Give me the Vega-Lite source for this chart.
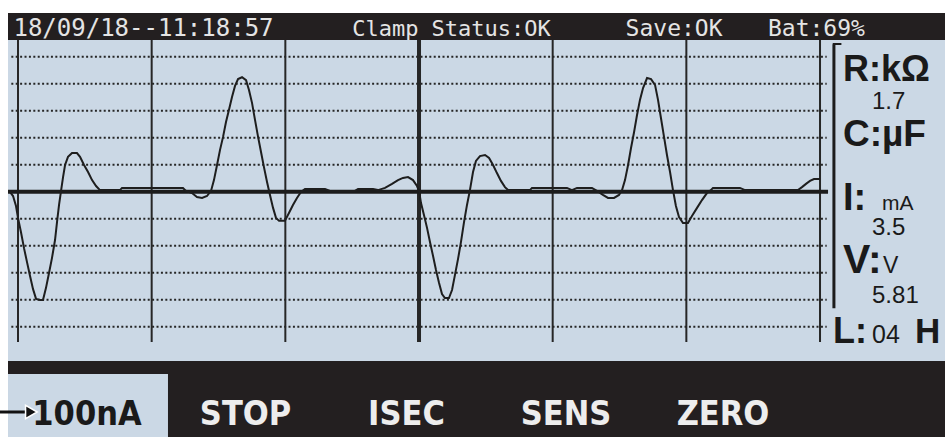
{
"$schema": "https://vega.github.io/schema/vega-lite/v6.json",
"width": 945, "height": 437, "padding": 0,
"autosize": {"type": "none"},
"background": "#ffffff",
"config": {"view": {"stroke": null}},
"datasets": {
"wave": [
{"t":-0.60,"v":-0.01},{"t":-0.37,"v":-0.16},{"t":-0.15,"v":-0.53},{"t":0,"v":-0.97},{"t":0.22,"v":-1.49},{"t":0.45,"v":-2.09},{"t":0.67,"v":-2.60},{"t":0.90,"v":-3.12},{"t":1.12,"v":-3.60},{"t":1.35,"v":-3.97},{"t":1.65,"v":-4.01},{"t":1.87,"v":-4.01},{"t":2.09,"v":-3.57},{"t":2.32,"v":-3.01},{"t":2.54,"v":-2.46},{"t":2.77,"v":-1.79},{"t":2.92,"v":-1.12},{"t":3.07,"v":-0.49},{"t":3.22,"v":0.03},{"t":3.37,"v":0.54},{"t":3.52,"v":0.99},{"t":3.74,"v":1.29},{"t":4.04,"v":1.43},{"t":4.41,"v":1.43},{"t":4.64,"v":1.29},{"t":4.94,"v":0.99},{"t":5.24,"v":0.73},{"t":5.54,"v":0.43},{"t":5.84,"v":0.21},{"t":6.13,"v":0.06},{"t":7.63,"v":0.06},{"t":7.78,"v":0.14},{"t":12.34,"v":0.14},{"t":12.57,"v":0.03},{"t":13.02,"v":-0.05},{"t":13.39,"v":-0.20},{"t":13.77,"v":-0.23},{"t":14.14,"v":-0.16},{"t":14.44,"v":0.03},{"t":14.66,"v":0.43},{"t":14.89,"v":0.99},{"t":15.11,"v":1.54},{"t":15.34,"v":2.03},{"t":15.56,"v":2.58},{"t":15.78,"v":3.03},{"t":16.01,"v":3.51},{"t":16.23,"v":3.91},{"t":16.46,"v":4.17},{"t":16.76,"v":4.24},{"t":17.06,"v":4.13},{"t":17.28,"v":3.77},{"t":17.51,"v":3.28},{"t":17.73,"v":2.66},{"t":17.96,"v":2.03},{"t":18.18,"v":1.47},{"t":18.40,"v":0.91},{"t":18.63,"v":0.36},{"t":18.85,"v":-0.12},{"t":19.08,"v":-0.60},{"t":19.30,"v":-0.97},{"t":19.53,"v":-1.08},{"t":19.97,"v":-1.08},{"t":20.27,"v":-0.79},{"t":20.57,"v":-0.49},{"t":20.87,"v":-0.23},{"t":21.17,"v":-0.01},{"t":21.47,"v":0.10},{"t":22.97,"v":0.10},{"t":23.34,"v":0.03},{"t":25.21,"v":0.03},{"t":25.44,"v":0.10},{"t":26.56,"v":0.10},{"t":26.93,"v":0.06},{"t":27.46,"v":0.14},{"t":27.98,"v":0.29},{"t":28.43,"v":0.43},{"t":28.80,"v":0.51},{"t":29.18,"v":0.54},{"t":29.55,"v":0.43},{"t":29.85,"v":0.21},{"t":30.00,"v":0.03},{"t":30.15,"v":-0.42},{"t":30.37,"v":-0.86},{"t":30.60,"v":-1.34},{"t":30.82,"v":-1.86},{"t":31.05,"v":-2.38},{"t":31.27,"v":-2.90},{"t":31.50,"v":-3.38},{"t":31.72,"v":-3.79},{"t":31.94,"v":-3.94},{"t":32.24,"v":-3.94},{"t":32.47,"v":-3.64},{"t":32.69,"v":-3.08},{"t":32.92,"v":-2.49},{"t":33.14,"v":-1.86},{"t":33.37,"v":-1.12},{"t":33.59,"v":-0.49},{"t":33.81,"v":0.06},{"t":34.04,"v":0.73},{"t":34.26,"v":1.14},{"t":34.56,"v":1.32},{"t":34.94,"v":1.36},{"t":35.24,"v":1.25},{"t":35.54,"v":0.99},{"t":35.83,"v":0.69},{"t":36.13,"v":0.40},{"t":36.43,"v":0.17},{"t":36.66,"v":0.06},{"t":38.30,"v":0.06},{"t":38.45,"v":0.14},{"t":41.07,"v":0.14},{"t":41.44,"v":0.06},{"t":41.82,"v":0.14},{"t":42.94,"v":0.14},{"t":43.31,"v":0.03},{"t":43.76,"v":-0.12},{"t":44.14,"v":-0.23},{"t":44.59,"v":-0.23},{"t":44.96,"v":-0.12},{"t":45.19,"v":0.06},{"t":45.41,"v":0.43},{"t":45.64,"v":0.99},{"t":45.86,"v":1.62},{"t":46.09,"v":2.21},{"t":46.31,"v":2.84},{"t":46.53,"v":3.40},{"t":46.76,"v":3.84},{"t":47.06,"v":4.21},{"t":47.36,"v":4.17},{"t":47.66,"v":3.95},{"t":47.88,"v":3.40},{"t":48.10,"v":2.73},{"t":48.33,"v":2.03},{"t":48.55,"v":1.36},{"t":48.78,"v":0.73},{"t":49.00,"v":0.06},{"t":49.22,"v":-0.53},{"t":49.45,"v":-0.94},{"t":49.75,"v":-1.16},{"t":50.12,"v":-1.16},{"t":50.42,"v":-0.90},{"t":50.80,"v":-0.60},{"t":51.17,"v":-0.31},{"t":51.54,"v":-0.05},{"t":51.84,"v":0.06},{"t":51.99,"v":0.14},{"t":54.01,"v":0.14},{"t":54.39,"v":0.06},{"t":58.35,"v":0.06},{"t":58.65,"v":0.17},{"t":58.95,"v":0.29},{"t":59.25,"v":0.40},{"t":59.55,"v":0.47},{"t":59.85,"v":0.47},{"t":60.00,"v":0.47}
],
"vgrid": [{"t":0},{"t":10},{"t":20},{"t":30},{"t":40},{"t":50},{"t":60}],
"hgrid": [{"v":-5},{"v":-4},{"v":-3},{"v":-2},{"v":-1},{"v":1},{"v":2},{"v":3},{"v":4},{"v":5}]
},
"layer": [
{"data":{"values":[{}]},"mark":{"type":"rect","color":"#231f20"},
 "encoding":{"x":{"datum":-0.748,"scale":{"domain":[-1.347,69.35],"nice":false,"zero":false},"axis":null},"x2":{"datum":69.4},
 "y":{"datum":6.619,"scale":{"domain":[-9.085,7.1],"nice":false,"zero":false},"axis":null},"y2":{"datum":5.619}}},
{"data":{"values":[{}]},"mark":{"type":"rect","color":"#cbd8e5"},
 "encoding":{"x":{"datum":-0.748,"scale":{"domain":[-1.347,69.35],"nice":false,"zero":false},"axis":null},"x2":{"datum":69.4},
 "y":{"datum":5.619,"scale":{"domain":[-9.085,7.1],"nice":false,"zero":false},"axis":null},"y2":{"datum":-6.27}}},
{"data":{"values":[{}]},"mark":{"type":"rect","color":"#231f20"},
 "encoding":{"x":{"datum":-0.748,"scale":{"domain":[-1.347,69.35],"nice":false,"zero":false},"axis":null},"x2":{"datum":69.4},
 "y":{"datum":-6.27,"scale":{"domain":[-9.085,7.1],"nice":false,"zero":false},"axis":null},"y2":{"datum":-9.1}}},
{"data":{"values":[{}]},"mark":{"type":"rect","color":"#cbd8e5"},
 "encoding":{"x":{"datum":-0.748,"scale":{"domain":[-1.347,69.35],"nice":false,"zero":false},"axis":null},"x2":{"datum":11.22},
 "y":{"datum":-6.75,"scale":{"domain":[-9.085,7.1],"nice":false,"zero":false},"axis":null},"y2":{"datum":-9.1}}},
{"data":{"name":"hgrid"},"mark":{"type":"rule","color":"#262626","strokeWidth":2,"strokeDash":[2,2.4]},
 "encoding":{"x":{"datum":-0.5,"scale":{"domain":[-1.347,69.35],"nice":false,"zero":false},"axis":null},"x2":{"datum":60.5},
 "y":{"field":"v","type":"quantitative","scale":{"domain":[-9.085,7.1],"nice":false,"zero":false},"axis":null}}},
{"data":{"name":"vgrid"},"mark":{"type":"rule","color":"#262626"},
 "encoding":{"x":{"field":"t","type":"quantitative","scale":{"domain":[-1.347,69.35],"nice":false,"zero":false},"axis":null},
 "y":{"datum":5.619,"scale":{"domain":[-9.085,7.1],"nice":false,"zero":false},"axis":null},"y2":{"datum":-5.57},
 "strokeWidth":{"condition":{"test":"datum.t === 30","value":4},"value":2}}},
{"data":{"values":[{}]},"mark":{"type":"rule","color":"#1c1c1c","strokeWidth":4},
 "encoding":{"x":{"datum":-0.748,"scale":{"domain":[-1.347,69.35],"nice":false,"zero":false},"axis":null},"x2":{"datum":60.6},
 "y":{"datum":0,"scale":{"domain":[-9.085,7.1],"nice":false,"zero":false},"axis":null}}},
{"data":{"name":"wave"},"mark":{"type":"line","color":"#1e1e1e","strokeWidth":2},
 "encoding":{"x":{"field":"t","type":"quantitative","scale":{"domain":[-1.347,69.35],"nice":false,"zero":false},"axis":null},
 "y":{"field":"v","type":"quantitative","scale":{"domain":[-9.085,7.1],"nice":false,"zero":false},"axis":null}}},
{"data":{"values":[{}]},"mark":{"type":"rule","color":"#1c1c1c","strokeWidth":3},
 "encoding":{"x":{"datum":61.04,"scale":{"domain":[-1.347,69.35],"nice":false,"zero":false},"axis":null},
 "y":{"datum":5.45,"scale":{"domain":[-9.085,7.1],"nice":false,"zero":false},"axis":null},"y2":{"datum":-4.32}}},
{"data":{"values":[{}]},"mark":{"type":"rule","color":"#1c1c1c","strokeWidth":2},
 "encoding":{"x":{"datum":60.95,"scale":{"domain":[-1.347,69.35],"nice":false,"zero":false},"axis":null},"x2":{"datum":61.6},
 "y":{"datum":5.47,"scale":{"domain":[-9.085,7.1],"nice":false,"zero":false},"axis":null}}},
{"data":{"values":[{}]},"mark":{"type":"text","font":"DejaVu Sans Mono","fontSize":24,"color":"#e4e4e4","align":"center","baseline":"alphabetic"},
 "encoding":{"x":{"datum":9.39,"scale":{"domain":[-1.347,69.35],"nice":false,"zero":false},"axis":null},"y":{"datum":5.767,"scale":{"domain":[-9.085,7.1],"nice":false,"zero":false},"axis":null},"text":{"value":"18/09/18--11:18:57"}}},
{"data":{"values":[{}]},"mark":{"type":"text","font":"DejaVu Sans Mono","fontSize":22,"color":"#e4e4e4","align":"center","baseline":"alphabetic"},
 "encoding":{"x":{"datum":32.43,"scale":{"domain":[-1.347,69.35],"nice":false,"zero":false},"axis":null},"y":{"datum":5.767,"scale":{"domain":[-9.085,7.1],"nice":false,"zero":false},"axis":null},"text":{"value":"Clamp Status:OK"}}},
{"data":{"values":[{}]},"mark":{"type":"text","font":"DejaVu Sans Mono","fontSize":23,"color":"#e4e4e4","align":"center","baseline":"alphabetic"},
 "encoding":{"x":{"datum":49.08,"scale":{"domain":[-1.347,69.35],"nice":false,"zero":false},"axis":null},"y":{"datum":5.767,"scale":{"domain":[-9.085,7.1],"nice":false,"zero":false},"axis":null},"text":{"value":"Save:OK"}}},
{"data":{"values":[{}]},"mark":{"type":"text","font":"DejaVu Sans Mono","fontSize":23,"color":"#e4e4e4","align":"center","baseline":"alphabetic"},
 "encoding":{"x":{"datum":59.73,"scale":{"domain":[-1.347,69.35],"nice":false,"zero":false},"axis":null},"y":{"datum":5.767,"scale":{"domain":[-9.085,7.1],"nice":false,"zero":false},"axis":null},"text":{"value":"Bat:69%"}}},
{"data":{"values":[{}]},"mark":{"type":"text","font":"Liberation Sans","fontWeight":"bold","fontSize":36,"color":"#1a1a1a","align":"left","baseline":"alphabetic"},
 "encoding":{"x":{"datum":61.72,"scale":{"domain":[-1.347,69.35],"nice":false,"zero":false},"axis":null},"y":{"datum":4.10,"scale":{"domain":[-9.085,7.1],"nice":false,"zero":false},"axis":null},"text":{"value":"R:kΩ"}}},
{"data":{"values":[{}]},"mark":{"type":"text","font":"Liberation Sans","fontSize":24,"color":"#1a1a1a","align":"left","baseline":"alphabetic"},
 "encoding":{"x":{"datum":63.89,"scale":{"domain":[-1.347,69.35],"nice":false,"zero":false},"axis":null},"y":{"datum":3.06,"scale":{"domain":[-9.085,7.1],"nice":false,"zero":false},"axis":null},"text":{"value":"1.7"}}},
{"data":{"values":[{}]},"mark":{"type":"text","font":"Liberation Sans","fontWeight":"bold","fontSize":37,"color":"#1a1a1a","align":"left","baseline":"alphabetic"},
 "encoding":{"x":{"datum":61.72,"scale":{"domain":[-1.347,69.35],"nice":false,"zero":false},"axis":null},"y":{"datum":1.693,"scale":{"domain":[-9.085,7.1],"nice":false,"zero":false},"axis":null},"text":{"value":"C:µF"}}},
{"data":{"values":[{}]},"mark":{"type":"text","font":"Liberation Sans","fontWeight":"bold","fontSize":38,"color":"#1a1a1a","align":"left","baseline":"alphabetic"},
 "encoding":{"x":{"datum":61.72,"scale":{"domain":[-1.347,69.35],"nice":false,"zero":false},"axis":null},"y":{"datum":-0.678,"scale":{"domain":[-9.085,7.1],"nice":false,"zero":false},"axis":null},"text":{"value":"I:"}}},
{"data":{"values":[{}]},"mark":{"type":"text","font":"Liberation Sans","fontSize":21,"color":"#1a1a1a","align":"left","baseline":"alphabetic"},
 "encoding":{"x":{"datum":64.64,"scale":{"domain":[-1.347,69.35],"nice":false,"zero":false},"axis":null},"y":{"datum":-0.678,"scale":{"domain":[-9.085,7.1],"nice":false,"zero":false},"axis":null},"text":{"value":"mA"}}},
{"data":{"values":[{}]},"mark":{"type":"text","font":"Liberation Sans","fontSize":24,"color":"#1a1a1a","align":"left","baseline":"alphabetic"},
 "encoding":{"x":{"datum":63.89,"scale":{"domain":[-1.347,69.35],"nice":false,"zero":false},"axis":null},"y":{"datum":-1.604,"scale":{"domain":[-9.085,7.1],"nice":false,"zero":false},"axis":null},"text":{"value":"3.5"}}},
{"data":{"values":[{}]},"mark":{"type":"text","font":"Liberation Sans","fontWeight":"bold","fontSize":41,"color":"#1a1a1a","align":"left","baseline":"alphabetic"},
 "encoding":{"x":{"datum":61.72,"scale":{"domain":[-1.347,69.35],"nice":false,"zero":false},"axis":null},"y":{"datum":-3.011,"scale":{"domain":[-9.085,7.1],"nice":false,"zero":false},"axis":null},"text":{"value":"V:"}}},
{"data":{"values":[{}]},"mark":{"type":"text","font":"Liberation Sans","fontSize":23,"color":"#1a1a1a","align":"left","baseline":"alphabetic"},
 "encoding":{"x":{"datum":64.71,"scale":{"domain":[-1.347,69.35],"nice":false,"zero":false},"axis":null},"y":{"datum":-3.011,"scale":{"domain":[-9.085,7.1],"nice":false,"zero":false},"axis":null},"text":{"value":"V"}}},
{"data":{"values":[{}]},"mark":{"type":"text","font":"Liberation Sans","fontSize":24,"color":"#1a1a1a","align":"left","baseline":"alphabetic"},
 "encoding":{"x":{"datum":63.89,"scale":{"domain":[-1.347,69.35],"nice":false,"zero":false},"axis":null},"y":{"datum":-4.122,"scale":{"domain":[-9.085,7.1],"nice":false,"zero":false},"axis":null},"text":{"value":"5.81"}}},
{"data":{"values":[{}]},"mark":{"type":"text","font":"Liberation Sans","fontWeight":"bold","fontSize":36,"color":"#1a1a1a","align":"left","baseline":"alphabetic"},
 "encoding":{"x":{"datum":60.97,"scale":{"domain":[-1.347,69.35],"nice":false,"zero":false},"axis":null},"y":{"datum":-5.604,"scale":{"domain":[-9.085,7.1],"nice":false,"zero":false},"axis":null},"text":{"value":"L:"}}},
{"data":{"values":[{}]},"mark":{"type":"text","font":"Liberation Sans","fontSize":25,"color":"#1a1a1a","align":"left","baseline":"alphabetic"},
 "encoding":{"x":{"datum":63.89,"scale":{"domain":[-1.347,69.35],"nice":false,"zero":false},"axis":null},"y":{"datum":-5.604,"scale":{"domain":[-9.085,7.1],"nice":false,"zero":false},"axis":null},"text":{"value":"04"}}},
{"data":{"values":[{}]},"mark":{"type":"text","font":"Liberation Sans","fontWeight":"bold","fontSize":35,"color":"#1a1a1a","align":"left","baseline":"alphabetic"},
 "encoding":{"x":{"datum":67.1,"scale":{"domain":[-1.347,69.35],"nice":false,"zero":false},"axis":null},"y":{"datum":-5.604,"scale":{"domain":[-9.085,7.1],"nice":false,"zero":false},"axis":null},"text":{"value":"H"}}},
{"data":{"values":[{}]},"mark":{"type":"rule","color":"#111111","strokeWidth":3},
 "encoding":{"x":{"datum":-1.347,"scale":{"domain":[-1.347,69.35],"nice":false,"zero":false},"axis":null},"x2":{"datum":0.75},
 "y":{"datum":-8.159,"scale":{"domain":[-9.085,7.1],"nice":false,"zero":false},"axis":null}}},
{"data":{"values":[{}]},"mark":{"type":"point","shape":"triangle-right","filled":true,"fill":"#111111","stroke":"#ffffff","strokeWidth":1.5,"size":180,"opacity":1},
 "encoding":{"x":{"datum":1.0,"scale":{"domain":[-1.347,69.35],"nice":false,"zero":false},"axis":null},
 "y":{"datum":-8.159,"scale":{"domain":[-9.085,7.1],"nice":false,"zero":false},"axis":null}}},
{"data":{"values":[{}]},"mark":{"type":"text","font":"'DejaVu Sans Condensed', 'Liberation Sans'","fontWeight":"bold","fontSize":34,"color":"#1a1a1a","align":"center","baseline":"alphabetic"},
 "encoding":{"x":{"datum":5.16,"scale":{"domain":[-1.347,69.35],"nice":false,"zero":false},"axis":null},"y":{"datum":-8.64,"scale":{"domain":[-9.085,7.1],"nice":false,"zero":false},"axis":null},"text":{"value":"100nA"}}},
{"data":{"values":[{}]},"mark":{"type":"text","font":"'DejaVu Sans Condensed', 'Liberation Sans'","fontWeight":"bold","fontSize":34,"color":"#ededed","align":"center","baseline":"alphabetic"},
 "encoding":{"x":{"datum":17.02,"scale":{"domain":[-1.347,69.35],"nice":false,"zero":false},"axis":null},"y":{"datum":-8.64,"scale":{"domain":[-9.085,7.1],"nice":false,"zero":false},"axis":null},"text":{"value":"STOP"}}},
{"data":{"values":[{}]},"mark":{"type":"text","font":"'DejaVu Sans Condensed', 'Liberation Sans'","fontWeight":"bold","fontSize":34,"color":"#ededed","align":"center","baseline":"alphabetic"},
 "encoding":{"x":{"datum":29.06,"scale":{"domain":[-1.347,69.35],"nice":false,"zero":false},"axis":null},"y":{"datum":-8.64,"scale":{"domain":[-9.085,7.1],"nice":false,"zero":false},"axis":null},"text":{"value":"ISEC"}}},
{"data":{"values":[{}]},"mark":{"type":"text","font":"'DejaVu Sans Condensed', 'Liberation Sans'","fontWeight":"bold","fontSize":34,"color":"#ededed","align":"center","baseline":"alphabetic"},
 "encoding":{"x":{"datum":41.0,"scale":{"domain":[-1.347,69.35],"nice":false,"zero":false},"axis":null},"y":{"datum":-8.64,"scale":{"domain":[-9.085,7.1],"nice":false,"zero":false},"axis":null},"text":{"value":"SENS"}}},
{"data":{"values":[{}]},"mark":{"type":"text","font":"'DejaVu Sans Condensed', 'Liberation Sans'","fontWeight":"bold","fontSize":34,"color":"#ededed","align":"center","baseline":"alphabetic"},
 "encoding":{"x":{"datum":52.74,"scale":{"domain":[-1.347,69.35],"nice":false,"zero":false},"axis":null},"y":{"datum":-8.64,"scale":{"domain":[-9.085,7.1],"nice":false,"zero":false},"axis":null},"text":{"value":"ZERO"}}}
]
}
